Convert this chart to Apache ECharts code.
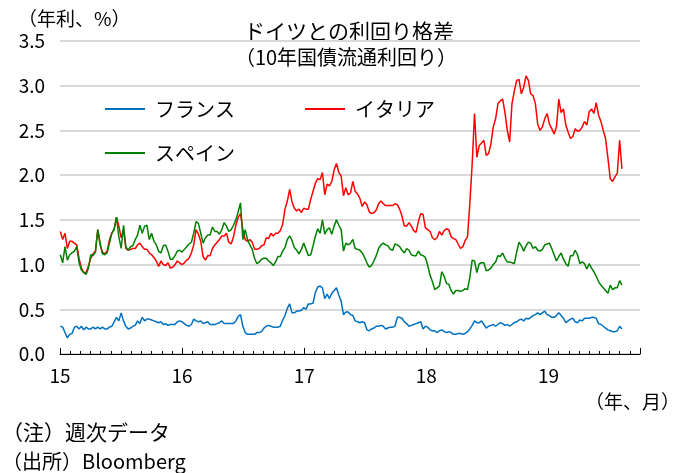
<!DOCTYPE html>
<html>
<head>
<meta charset="utf-8">
<script src="https://cdn.jsdelivr.net/npm/echarts@6/dist/echarts.min.js"></script>
<style>
html, body { margin: 0; padding: 0; background: #fff; }
#chart { width: 688px; height: 473px; }
</style>
</head>
<body>
<div id="chart"></div>
<script>
// 系列名・色
var seriesNames = ['フランス', 'イタリア', 'スペイン'];
var seriesColors = ['#0070C0', '#FF0000', '#008000'];
// 週次データの初週（以降7日ごと）
var startDate = '2015-01-02';
var yearLabels = ['15', '16', '17', '18', '19'];

// フランス
var france = [
	0.31,0.30,0.24,0.18,0.22,0.23,0.30,0.31,0.28,0.31,
	0.27,0.30,0.28,0.28,0.30,0.28,0.30,0.28,0.30,0.28,
	0.28,0.30,0.31,0.36,0.41,0.37,0.46,0.37,0.31,0.28,
	0.29,0.31,0.32,0.37,0.34,0.41,0.37,0.39,0.39,0.38,
	0.37,0.36,0.35,0.36,0.33,0.34,0.32,0.33,0.33,0.33,
	0.36,0.37,0.36,0.34,0.32,0.31,0.33,0.39,0.37,0.36,
	0.37,0.34,0.35,0.36,0.33,0.33,0.33,0.34,0.35,0.37,
	0.34,0.34,0.34,0.34,0.34,0.37,0.42,0.44,0.31,0.24,
	0.22,0.22,0.22,0.22,0.24,0.24,0.25,0.29,0.31,0.32,
	0.31,0.30,0.30,0.30,0.31,0.38,0.43,0.51,0.56,0.46,
	0.46,0.48,0.48,0.49,0.52,0.50,0.56,0.56,0.57,0.69,
	0.75,0.76,0.74,0.62,0.67,0.62,0.68,0.71,0.74,0.66,
	0.59,0.44,0.47,0.47,0.44,0.43,0.37,0.36,0.35,0.36,
	0.35,0.27,0.26,0.28,0.29,0.31,0.31,0.32,0.31,0.28,
	0.29,0.30,0.30,0.31,0.41,0.41,0.40,0.36,0.34,0.31,
	0.32,0.33,0.34,0.35,0.36,0.28,0.31,0.30,0.27,0.26,
	0.26,0.24,0.26,0.27,0.25,0.24,0.25,0.24,0.22,0.22,
	0.23,0.23,0.22,0.23,0.25,0.28,0.32,0.37,0.35,0.35,
	0.37,0.33,0.29,0.31,0.32,0.33,0.31,0.33,0.35,0.34,
	0.32,0.33,0.31,0.33,0.35,0.36,0.38,0.39,0.37,0.40,
	0.39,0.41,0.43,0.44,0.46,0.44,0.46,0.48,0.44,0.43,
	0.41,0.41,0.43,0.46,0.43,0.40,0.35,0.37,0.39,0.40,
	0.36,0.35,0.38,0.37,0.40,0.40,0.40,0.41,0.41,0.40,
	0.34,0.33,0.31,0.29,0.27,0.26,0.25,0.25,0.26,0.31,
	0.28
];
// イタリア
var italy = [
	1.37,1.28,1.35,1.18,1.26,1.26,1.24,1.22,1.07,0.96,
	0.91,0.91,0.98,1.07,1.12,1.15,1.39,1.22,1.14,1.12,
	1.15,1.28,1.35,1.40,1.53,1.43,1.30,1.39,1.18,1.16,
	1.17,1.18,1.18,1.22,1.24,1.20,1.17,1.17,1.13,1.11,
	1.08,1.04,0.98,1.04,1.00,0.99,1.02,0.96,0.97,1.00,
	1.04,1.02,1.00,1.02,1.05,1.07,1.13,1.22,1.39,1.34,
	1.26,1.09,1.05,1.10,1.10,1.18,1.22,1.25,1.28,1.32,
	1.32,1.35,1.25,1.23,1.31,1.44,1.53,1.57,1.39,1.28,
	1.26,1.28,1.25,1.17,1.17,1.18,1.21,1.22,1.30,1.29,
	1.35,1.32,1.35,1.35,1.38,1.45,1.62,1.71,1.84,1.70,
	1.63,1.60,1.62,1.58,1.63,1.62,1.62,1.73,1.82,1.91,
	1.96,1.95,2.03,1.78,1.90,1.88,1.93,2.06,2.13,2.03,
	1.99,1.77,1.86,1.78,1.80,1.93,1.82,1.79,1.74,1.65,
	1.70,1.67,1.59,1.57,1.58,1.61,1.68,1.71,1.68,1.66,
	1.66,1.66,1.66,1.68,1.67,1.62,1.54,1.43,1.43,1.47,
	1.43,1.38,1.36,1.48,1.57,1.56,1.41,1.39,1.37,1.30,
	1.28,1.30,1.37,1.33,1.38,1.40,1.39,1.31,1.29,1.28,
	1.23,1.18,1.20,1.27,1.31,1.69,2.13,2.69,2.20,2.33,
	2.36,2.39,2.22,2.24,2.35,2.54,2.63,2.80,2.83,2.85,
	2.70,2.50,2.37,2.80,2.94,3.06,3.07,2.91,2.98,3.11,
	3.06,2.91,2.89,2.80,2.57,2.50,2.54,2.63,2.69,2.57,
	2.52,2.46,2.54,2.85,2.70,2.74,2.56,2.48,2.41,2.43,
	2.52,2.49,2.50,2.54,2.60,2.56,2.71,2.74,2.69,2.81,
	2.67,2.60,2.50,2.41,2.19,1.96,1.93,1.98,2.02,2.39,
	2.07
];
// スペイン
var spain = [
	1.11,1.02,1.20,1.05,1.11,1.13,1.15,1.20,1.02,0.94,
	0.91,0.89,0.96,1.11,1.10,1.14,1.39,1.24,1.12,1.11,
	1.13,1.24,1.35,1.39,1.53,1.31,1.18,1.44,1.20,1.16,
	1.20,1.21,1.28,1.33,1.44,1.35,1.43,1.44,1.28,1.35,
	1.26,1.22,1.15,1.13,1.21,1.22,1.15,1.06,1.06,1.10,
	1.15,1.16,1.14,1.17,1.20,1.23,1.25,1.35,1.48,1.46,
	1.35,1.24,1.30,1.33,1.33,1.42,1.37,1.37,1.34,1.39,
	1.47,1.43,1.37,1.39,1.44,1.50,1.59,1.69,1.28,1.39,
	1.28,1.22,1.17,1.07,1.01,1.03,1.06,1.07,1.07,1.04,
	1.02,0.99,1.03,1.09,1.09,1.15,1.19,1.28,1.32,1.27,
	1.19,1.16,1.12,1.17,1.24,1.17,1.10,1.11,1.21,1.32,
	1.40,1.35,1.50,1.34,1.39,1.41,1.34,1.43,1.50,1.44,
	1.39,1.15,1.24,1.22,1.24,1.28,1.18,1.17,1.16,1.13,
	1.08,1.02,0.97,0.99,1.04,1.10,1.18,1.22,1.24,1.22,
	1.21,1.17,1.16,1.23,1.22,1.20,1.16,1.13,1.18,1.16,
	1.11,1.10,1.10,1.15,1.11,1.10,1.08,0.99,0.88,0.81,
	0.72,0.74,0.76,0.92,0.87,0.79,0.78,0.71,0.67,0.71,
	0.71,0.70,0.71,0.73,0.72,0.86,1.05,1.04,0.91,1.01,
	1.02,1.02,0.93,0.94,0.96,1.00,1.03,1.10,1.09,1.13,
	1.07,1.03,1.03,1.02,1.01,1.14,1.25,1.21,1.15,1.21,
	1.25,1.24,1.18,1.20,1.16,1.15,1.17,1.22,1.23,1.24,
	1.18,1.11,1.04,1.09,1.13,1.06,1.01,0.98,1.10,1.10,
	1.16,1.11,1.01,1.03,1.01,0.95,1.01,0.96,0.92,0.87,
	0.81,0.77,0.74,0.71,0.68,0.77,0.72,0.74,0.74,0.82,
	0.77
];

var FONT = '"Noto Sans CJK JP", sans-serif';

// 週 -> 2015年1月起点の月数
function toMonth(i) {
	var base = Date.parse('2015-01-01T00:00:00Z');
	var d = Date.parse(startDate + 'T00:00:00Z') + i * 7 * 86400000;
	return (d - base) / (86400000 * 365.25 / 12);
}
function pairs(arr) {
	var out = [];
	for (var i = 0; i < arr.length; i++) {
		out.push([toMonth(i), arr[i]]);
	}
	return out;
}

var chart = echarts.init(document.getElementById('chart'));

var lineSeries = function(idx, arr) {
	return {
		name: seriesNames[idx],
		type: 'line',
		data: pairs(arr),
		showSymbol: false,
		symbol: 'none',
		xAxisIndex: 0,
		lineStyle: { color: seriesColors[idx], width: 1.5 },
		itemStyle: { color: seriesColors[idx] }
	};
};

var legendText = { fontSize: 20, color: '#000', fontFamily: FONT, padding: [0, 0, 0, 5] };

var option = {
	backgroundColor: '#fff',
	animation: false,
	textStyle: { fontFamily: FONT },
	grid: { left: 60, right: 48, top: 41, bottom: 119 },
	legend: [
		{
			data: ['フランス', 'イタリア'],
			left: 105, top: 99, padding: 0,
			icon: 'rect', itemWidth: 40, itemHeight: 2, itemGap: 70,
			textStyle: legendText
		},
		{
			data: ['スペイン'],
			left: 105, top: 143, padding: 0,
			icon: 'rect', itemWidth: 40, itemHeight: 2,
			textStyle: legendText
		}
	],
	xAxis: [
		{
			type: 'value', min: 0, max: 57, interval: 12,
			axisLine: { show: true, lineStyle: { color: '#000', width: 1 } },
			axisTick: { show: true, inside: true, length: 6, lineStyle: { color: '#000' } },
			axisLabel: {
				fontSize: 19, color: '#000', margin: 12, fontFamily: FONT,
				formatter: function(v) { return v % 12 === 0 ? yearLabels[v / 12] : ''; }
			},
			splitLine: { show: false }
		},
		{
			type: 'value', min: 0, max: 57, interval: 1, position: 'bottom',
			axisLine: { show: false },
			axisTick: { show: true, inside: true, length: 3, lineStyle: { color: '#000' } },
			axisLabel: { show: false },
			splitLine: { show: false }
		}
	],
	yAxis: {
		type: 'value', min: 0, max: 3.5, interval: 0.5,
		axisLine: { show: false },
		axisTick: { show: false },
		axisLabel: {
			fontSize: 19, color: '#000', margin: 15, fontFamily: FONT,
			formatter: function(v) { return v.toFixed(1); }
		},
		splitLine: { lineStyle: { color: '#d9d9d9', width: 2 } }
	},
	graphic: [
		{ type: 'text', left: 18, top: 9, style: { text: '（年利、%）', font: '19px ' + FONT, fill: '#000' } },
		{ type: 'text', x: 349, y: 31, style: { text: 'ドイツとの利回り格差', font: '21px ' + FONT, fill: '#000', textAlign: 'center', textVerticalAlign: 'middle' } },
		{ type: 'text', x: 346, y: 57, style: { text: '（10年国債流通利回り）', font: '20px ' + FONT, fill: '#000', textAlign: 'center', textVerticalAlign: 'middle' } },
		{ type: 'text', x: 680, y: 402, style: { text: '（年、月）', font: '19px ' + FONT, fill: '#000', textAlign: 'right', textVerticalAlign: 'middle' } },
		{ type: 'text', x: 2, y: 432, style: { text: '（注）週次データ', font: '21px ' + FONT, fill: '#000', textVerticalAlign: 'middle' } },
		{ type: 'text', x: 2, y: 461, style: { text: '（出所）Bloomberg', font: '20px ' + FONT, fill: '#000', textVerticalAlign: 'middle' } }
	],
	series: [
		lineSeries(0, france),
		lineSeries(1, italy),
		lineSeries(2, spain)
	]
};
chart.setOption(option);
</script>
</body>
</html>
